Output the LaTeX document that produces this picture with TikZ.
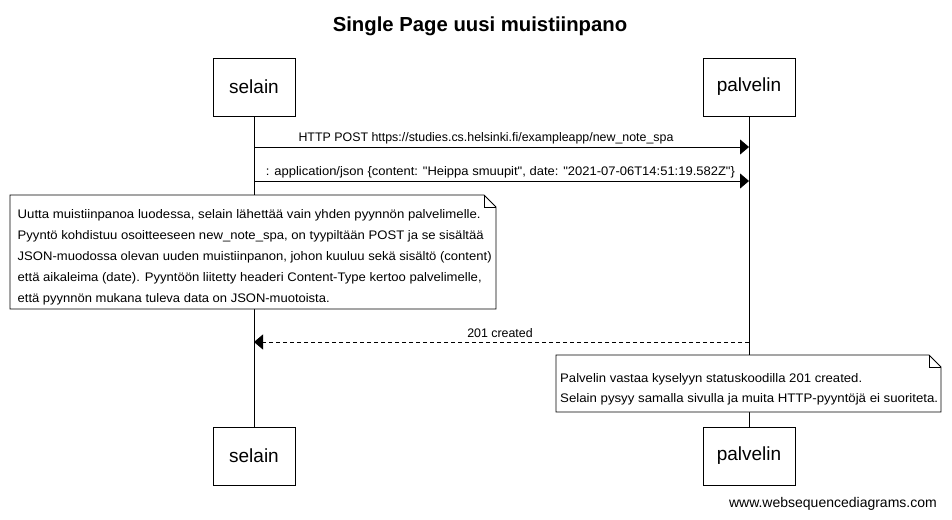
\documentclass[tikz,border=0pt]{standalone}
\usepackage{graphicx}
\usepackage{fontspec}
\setmainfont{Liberation Sans}
\newfontfamily\rawfont{Liberation Sans}
\usetikzlibrary{arrows.meta}
\newcommand\fitline[2]{\resizebox{#1pt}{\height}{#2}}
\begin{document}
\begin{tikzpicture}[x=1pt,y=-1pt,
  actor/.style={draw,fill=white,line width=0.8pt,minimum width=82pt,minimum height=58pt,inner sep=0pt,font=\fontsize{19}{22}\selectfont},
  msg/.style={line width=0.8pt,-{Triangle[length=9pt,width=15pt]}},
  lbl/.style={font=\rawfont\fontsize{12.4}{14}\selectfont,inner sep=0pt},
  notetext/.style={font=\fontsize{12.4}{21.2}\selectfont,align=left,inner sep=0pt,anchor=north west},
  notebox/.style={line width=0.8pt,fill=white},
  life/.style={line width=0.8pt}]
\useasboundingbox (0,0) rectangle (952,519);
\fill[white] (0,0) rectangle (952,519);
\node[font=\bfseries\fontsize{20.3}{22}\selectfont] (title) at (480,26) {Single Page uusi muistiinpano};
% actors
\node[actor] (s1) at (254,87) {selain};
\node[actor,minimum width=92pt] (p1) at (749,87) {palvelin};
\node[actor] (s2) at (254,456) {selain};
\node[actor,minimum width=92pt] (p2) at (749,456) {palvelin};
\draw[life] (s1.south) -- (s2.north);
\draw[life] (p1.south) -- (p2.north);
% messages
\coordinate (a1s) at (254,147); \coordinate (a1e) at (749,147);
\draw[msg] (a1s) -- (a1e);
\node[lbl] (l1) at (486,138) {HTTP POST https://studies.cs.helsinki.fi/exampleapp/new\_note\_spa};
\coordinate (a2s) at (254,181); \coordinate (a2e) at (749,181);
\draw[msg] (a2s) -- (a2e);
\node[lbl] (l2) at (500.5,172) {\fitline{469}{: application/json \{content: "Heippa smuupit", date: "2021-07-06T14:51:19.582Z"\}}};
% note 1
\draw[notebox] (10,195) -- (484,195) -- (496,207) -- (496,309) -- (10,309) -- cycle;
\draw[line width=0.8pt] (484,195) -- (484,207) -- (496,207);
\node[notetext] (n1) at (17.5,209) {\fitline{463}{Uutta muistiinpanoa luodessa, selain lähettää vain yhden pyynnön palvelimelle.}\\
\fitline{466}{Pyyntö kohdistuu osoitteeseen new\_note\_spa, on tyypiltään POST ja se sisältää}\\
\fitline{474}{JSON-muodossa olevan uuden muistiinpanon, johon kuuluu sekä sisältö (content)}\\
\fitline{464}{että aikaleima (date). Pyyntöön liitetty headeri Content-Type kertoo palvelimelle,}\\
\fitline{312}{että pyynnön mukana tuleva data on JSON-muotoista.}};
% response
\coordinate (a3s) at (749,342); \coordinate (a3e) at (254,342);
\draw[msg,dash pattern=on 4pt off 3pt] (a3s) -- (a3e);
\node[lbl] (l3) at (500,333) {201 created};
% note 2
\draw[notebox] (556,355) -- (929,355) -- (941,367) -- (941,412) -- (556,412) -- cycle;
\draw[line width=0.8pt] (929,355) -- (929,367) -- (941,367);
\node[notetext,font=\fontsize{12.4}{20.4}\selectfont] (n2) at (560,373) {\fitline{302}{Palvelin vastaa kyselyyn statuskoodilla 201 created.}\\
\fitline{378}{Selain pysyy samalla sivulla ja muita HTTP-pyyntöjä ei suoriteta.}};
\node[lbl,anchor=east,font=\rawfont\fontsize{14}{16}\selectfont] (foot) at (937,504) {www.websequencediagrams.com};
\end{tikzpicture}
\end{document}
